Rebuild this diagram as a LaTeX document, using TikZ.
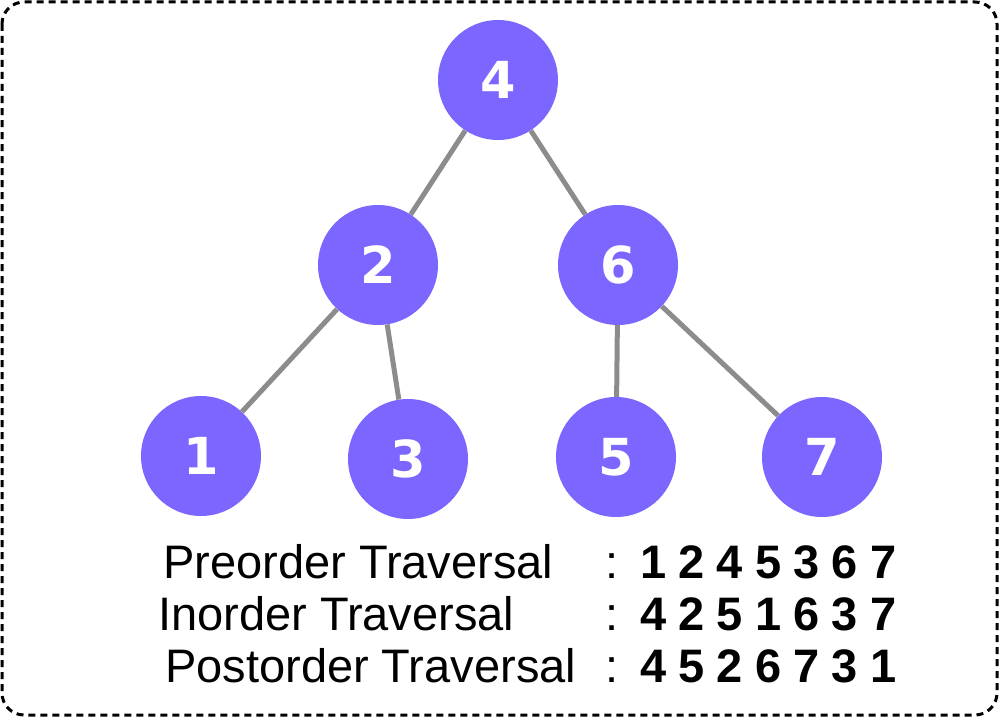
\documentclass[tikz,border=0pt]{standalone}
\usepackage{fontspec}
\setmainfont{Liberation Sans}
\newfontfamily\digitfont{DejaVu Sans}
\newfontfamily\seqfont[LetterSpace=26]{Liberation Sans}
\usepackage{tikz}

\definecolor{treepurple}{HTML}{7B66FF}
\definecolor{edgegray}{HTML}{8C8C8C}

\begin{document}
\begin{tikzpicture}[x=1pt,y=-1pt,
        vertex/.style={circle,fill=treepurple,minimum size=120pt,inner sep=0pt,
            text=white,font=\digitfont\bfseries\fontsize{51}{51}\selectfont},
        branch/.style={draw=edgegray,line width=5pt},
        rowtext/.style={anchor=base west,inner sep=0pt,font=\fontsize{47}{47}\selectfont},
        seqtext/.style={rowtext,font=\seqfont\bfseries\fontsize{47}{47}\selectfont}]
            \useasboundingbox (0,0) rectangle (999,717);
            \draw[line width=3pt,dash pattern=on 7pt off 5pt,rounded corners=22pt]
                (2,2) rectangle (997,715);
            \node[vertex] at (498,80) (n4) {4};
            \node[vertex] at (378,265) (n2) {2};
            \node[vertex] at (618,265) (n6) {6};
            \node[vertex] at (201,456) (n1) {1};
            \node[vertex] at (408,459) (n3) {3};
            \node[vertex] at (616,457) (n5) {5};
            \node[vertex] at (822,457) (n7) {7};
            \draw[branch] (n4) to (n2);
            \draw[branch] (n4) to (n6);
            \draw[branch] (n2) to (n1);
            \draw[branch] (n2) to (n3);
            \draw[branch] (n6) to (n5);
            \draw[branch] (n6) to (n7);
            % traversal rows
            \node[rowtext] at (163,578) (pre) {Preorder Traversal};
            \node[rowtext] at (158,630) (in) {Inorder Traversal};
            \node[rowtext] at (165,682) (post) {Postorder Traversal};
            \node[rowtext] at (605,578) (c1) {:};
            \node[rowtext] at (605,630) (c2) {:};
            \node[rowtext] at (605,682) (c3) {:};
            \node[seqtext] at (640,578) (s1) {1245367};
            \node[seqtext] at (640,630) (s2) {4251637};
            \node[seqtext] at (640,682) (s3) {4526731};
        \end{tikzpicture}
\end{document}
